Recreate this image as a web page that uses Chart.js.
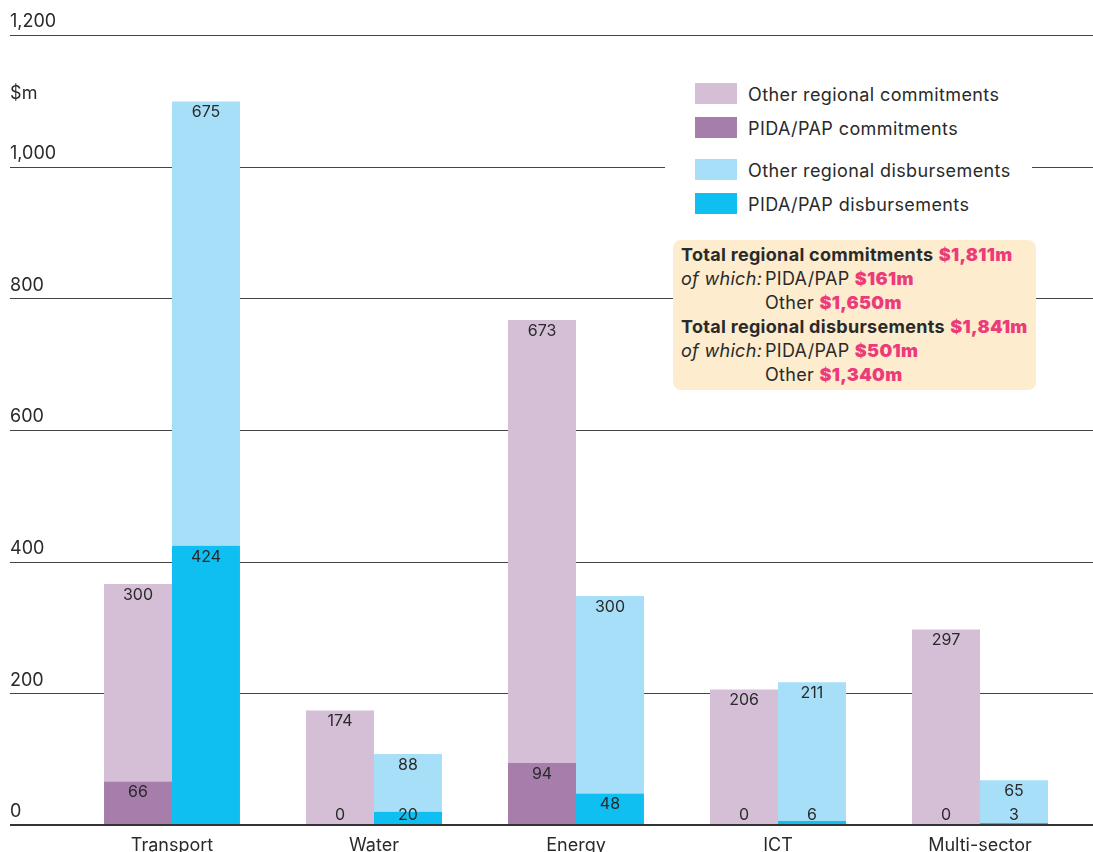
<!DOCTYPE html>
<html>
<head>
<meta charset="utf-8">
<script src="https://cdn.jsdelivr.net/npm/chart.js@4.4.1/dist/chart.umd.min.js"></script>
<style>
  body { margin: 0; background: #fff; font-family: Inter, "Noto Sans", sans-serif; color: #2a2a2a; }
  #wrap { position: relative; width: 1093px; height: 852px; overflow: hidden; }
  #chart { position: absolute; left: 0; top: 0; }
  #unit { position: absolute; left: 10px; top: 82px; font-size: 18px; line-height: 22px; letter-spacing: 0.3px; }
  #legend { position: absolute; left: 665px; top: 78px; width: 367px; height: 142px; background: #fff; }
  .item { position: absolute; left: 30px; height: 21px; }
  .sw { position: absolute; left: 0; top: 0; width: 42px; height: 21px; }
  .lbl { position: absolute; left: 53px; top: 1px; line-height: 22px; font-size: 18px; letter-spacing: 0.4px; white-space: nowrap; }
  #note { position: absolute; left: 673px; top: 240px; width: 363px; height: 150px; background: #fdecce;
          border-radius: 8px; font-size: 18px; line-height: 24px; padding: 3px 0 0 8px; box-sizing: border-box;
          letter-spacing: 0.3px; white-space: nowrap; }
  #note b { font-weight: 700; }
  #note .v { color: #ec3b7a; font-weight: 900; }
  #note .w { display: inline-block; width: 84px; font-style: italic; }
  #note .ind { padding-left: 84px; }
</style>
</head>
<body>
<div id="wrap">
  <canvas id="chart" width="1093" height="852"></canvas>
  <div id="unit">$m</div>
  <div id="legend"></div>
  <div id="note">
    <div><b>Total regional commitments</b> <span class="v">$1,811m</span></div>
    <div><span class="w">of which:</span>PIDA/PAP <span class="v">$161m</span></div>
    <div class="ind">Other <span class="v">$1,650m</span></div>
    <div><b>Total regional disbursements</b> <span class="v">$1,841m</span></div>
    <div><span class="w">of which:</span>PIDA/PAP <span class="v">$501m</span></div>
    <div class="ind">Other <span class="v">$1,340m</span></div>
  </div>
</div>
<script>
const categories = ["Transport", "Water", "Energy", "ICT", "Multi-sector"];

const pidaCommit = [66, 0, 94, 0, 0];
const otherCommit = [300, 174, 673, 206, 297];
const pidaDisburse = [424, 20, 48, 6, 3];
const otherDisburse = [675, 88, 300, 211, 65];

const yMin = 0;
const yMax = 1200;
const yStep = 200;

Chart.defaults.font.family = "Inter, 'Noto Sans', sans-serif";
Chart.defaults.font.size = 18;
Chart.defaults.color = "#2a2a2a";

// gridlines run across the whole canvas width, behind the bars
const gridPlugin = {
  id: "grid",
  beforeDatasetsDraw(chart) {
    const ctx = chart.ctx;
    const y = chart.scales.y;
    ctx.save();
    ctx.strokeStyle = "#444";
    ctx.lineWidth = 1.2;
    for (let v = yMin + yStep; v <= yMax; v += yStep) {
      const py = Math.round(y.getPixelForValue(v)) + 0.5;
      ctx.beginPath();
      ctx.moveTo(10, py);
      ctx.lineTo(chart.width, py);
      ctx.stroke();
    }
    ctx.restore();
  },
  afterDatasetsDraw(chart) {
    const ctx = chart.ctx;
    const y = chart.scales.y;
    const py = y.getPixelForValue(0);
    ctx.save();
    ctx.strokeStyle = "#333";
    ctx.lineWidth = 2;
    ctx.beginPath();
    ctx.moveTo(10, py);
    ctx.lineTo(chart.width, py);
    ctx.stroke();
    ctx.restore();
  }
};

// value labels just inside the top of each segment
const valuePlugin = {
  id: "values",
  afterDatasetsDraw(chart) {
    const ctx = chart.ctx;
    const base = chart.scales.y.getPixelForValue(0);
    ctx.save();
    ctx.font = "16px Inter, 'Noto Sans', sans-serif";
    ctx.fillStyle = "#2a2a2a";
    ctx.textAlign = "center";
    ctx.textBaseline = "middle";
    chart.data.datasets.forEach((ds, i) => {
      chart.getDatasetMeta(i).data.forEach((bar, j) => {
        const ly = Math.min(bar.y + 11, base - 10);
        ctx.fillText(String(ds.data[j]), bar.x, ly);
      });
    });
    ctx.restore();
  }
};

const chart = new Chart(document.getElementById("chart"), {
  type: "bar",
  data: {
    labels: categories,
    datasets: [
      { label: "PIDA/PAP commitments", data: pidaCommit, stack: "commit", backgroundColor: "#a67dab" },
      { label: "Other regional commitments", data: otherCommit, stack: "commit", backgroundColor: "#d4bfd7" },
      { label: "PIDA/PAP disbursements", data: pidaDisburse, stack: "disburse", backgroundColor: "#0fbff2" },
      { label: "Other regional disbursements", data: otherDisburse, stack: "disburse", backgroundColor: "#a7dff8" }
    ]
  },
  options: {
    responsive: false,
    animation: false,
    layout: { padding: { left: 10, right: 12, top: 35, bottom: 0 } },
    categoryPercentage: 0.673,
    barPercentage: 1.0,
    plugins: { legend: { display: false }, tooltip: { enabled: false } },
    scales: {
      x: {
        stacked: true,
        grid: { display: false },
        border: { display: false },
        ticks: { padding: 2, color: "#2a2a2a", font: { size: 18 } },
        afterFit(scale) { scale.height = 27; }
      },
      y: {
        stacked: true,
        min: yMin,
        max: yMax,
        grid: { display: false },
        border: { display: false },
        ticks: {
          stepSize: yStep,
          crossAlign: "far",
          padding: 0,
          labelOffset: -13,
          color: "#2a2a2a",
          font: { size: 18 },
          callback: v => v.toLocaleString("en-US")
        },
        afterFit(scale) { scale.width = 61; }
      }
    }
  },
  plugins: [gridPlugin, valuePlugin]
});

// legend built from the datasets, in the reference's order
const legendOrder = [1, 0, 3, 2];
const legendTops = [5, 39, 81, 115];
const legend = document.getElementById("legend");
legendOrder.forEach((di, k) => {
  const ds = chart.data.datasets[di];
  const item = document.createElement("div");
  item.className = "item";
  item.style.top = legendTops[k] + "px";
  item.innerHTML = '<div class="sw" style="background:' + ds.backgroundColor + '"></div><div class="lbl">' + ds.label + '</div>';
  legend.appendChild(item);
});
</script>
</body>
</html>
